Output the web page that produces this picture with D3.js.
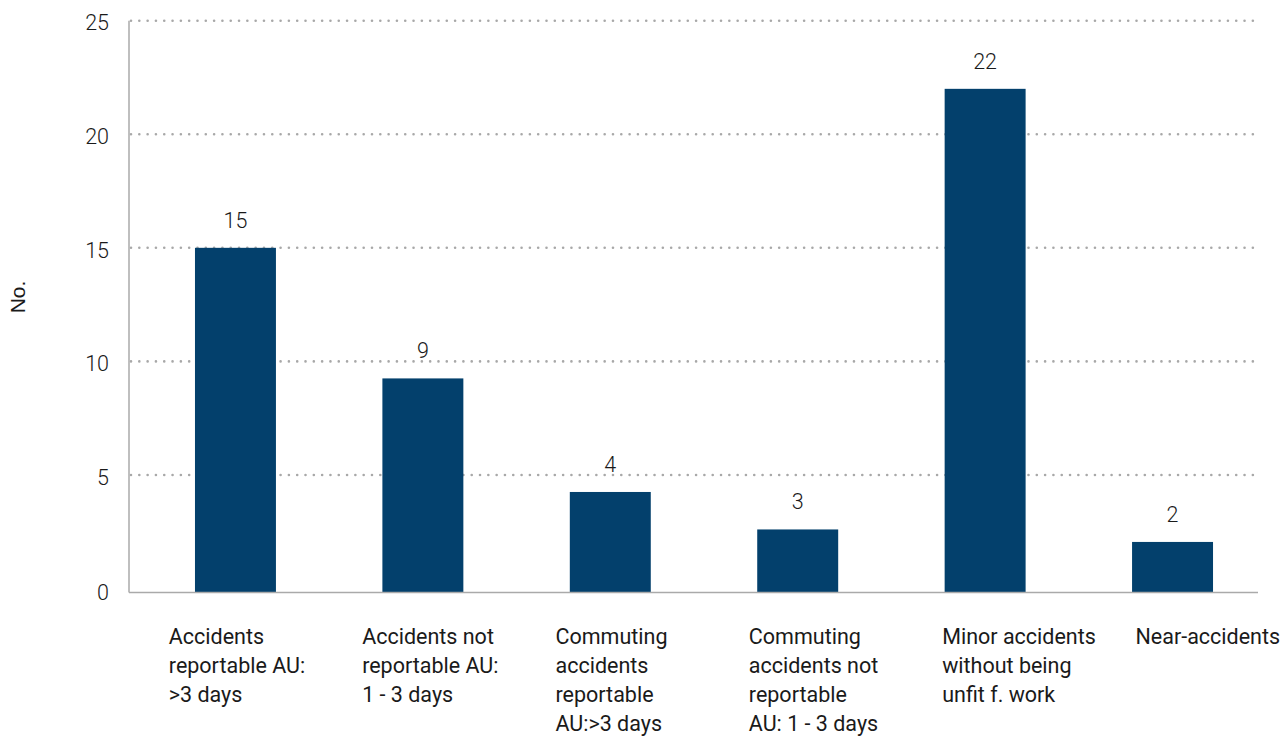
<!DOCTYPE html>
<html>
<head>
<meta charset="utf-8">
<script src="https://cdn.jsdelivr.net/npm/d3@7"></script>
<style>
  body { margin: 0; background: #fff; }
  text { font-family: Roboto, "Open Sans", sans-serif; font-weight: 300; fill: #1a1a1a; }
</style>
</head>
<body>
<div id="chart"></div>
<script>
// categories (wrapped into lines), bar heights and the printed value labels
var categories = [
    ["Accidents", "reportable AU:", ">3 days"],
    ["Accidents not", "reportable AU:", "1 - 3 days"],
    ["Commuting", "accidents", "reportable", "AU:>3 days"],
    ["Commuting", "accidents not", "reportable", "AU: 1 - 3 days"],
    ["Minor accidents", "without being", "unfit f. work"],
    ["Near-accidents"]
];
var values = [15, 9.25, 4.25, 2.6, 22, 2.05];
var valueLabels = ["15", "9", "4", "3", "22", "2"];
var yTicks = [0, 5, 10, 15, 20, 25];

var width = 1282, height = 736;
var plot = { left: 129, right: 1258, top: 20.7, bottom: 588.5 };

var svg = d3.select("#chart")
    .append("svg")
    .attr("width", width)
    .attr("height", height);

var keys = categories.map(function (d, i) { return "c" + i; });

var x = d3.scaleBand()
    .domain(keys)
    .range([plot.left, 1279])
    .paddingInner(0.568)
    .paddingOuter(0.352);

var xLabel = d3.scalePoint()
    .domain(keys)
    .range([168.8, 1135.5]);

var y = d3.scaleLinear()
    .domain([0, 25])
    .range([plot.bottom, plot.top]);

var baseY = y(0) + 4;

// dotted gridlines
svg.append("g")
    .selectAll("line")
    .data(yTicks.filter(function (d) { return d > 0; }))
    .enter()
    .append("line")
    .attr("x1", plot.left + 2)
    .attr("x2", plot.right)
    .attr("y1", function (d) { return y(d); })
    .attr("y2", function (d) { return y(d); })
    .style("stroke", "#a8a8a8")
    .style("stroke-width", 2.6)
    .style("stroke-linecap", "round")
    .style("stroke-dasharray", "0.01,8.3");

// bars
svg.append("g")
    .selectAll("rect")
    .data(values)
    .enter()
    .append("rect")
    .attr("x", function (d, i) { return x(keys[i]); })
    .attr("width", x.bandwidth())
    .attr("y", function (d) { return y(d); })
    .attr("height", function (d) { return baseY - y(d); })
    .style("fill", "#03406c");

// axis lines
svg.append("line")
    .attr("x1", plot.left).attr("x2", plot.left)
    .attr("y1", plot.top).attr("y2", baseY)
    .style("stroke", "#aaa")
    .style("stroke-width", 1.5);

svg.append("line")
    .attr("x1", plot.left).attr("x2", plot.right)
    .attr("y1", baseY).attr("y2", baseY)
    .style("stroke", "#aaa")
    .style("stroke-width", 1.5);

// y tick labels
svg.append("g")
    .selectAll("text")
    .data(yTicks)
    .enter()
    .append("text")
    .attr("x", plot.left - 20)
    .attr("y", function (d) { return d === 0 ? baseY : y(d) + 2; })
    .attr("dy", "0.36em")
    .attr("text-anchor", "end")
    .style("font-size", "21.5px")
    .text(function (d) { return d; });

// y axis title
svg.append("text")
    .attr("transform", "translate(25," + 297 + ") rotate(-90)")
    .attr("text-anchor", "middle")
    .style("font-family", "'Liberation Sans', Arial, sans-serif")
    .style("font-weight", 400)
    .style("font-size", "21px")
    .text("No.");

// value labels
svg.append("g")
    .selectAll("text")
    .data(values)
    .enter()
    .append("text")
    .attr("x", function (d, i) { return x(keys[i]) + x.bandwidth() / 2; })
    .attr("y", function (d) { return y(d) - 20; })
    .attr("text-anchor", "middle")
    .style("font-size", "21.5px")
    .text(function (d, i) { return valueLabels[i]; });

// category labels
var cat = svg.append("g")
    .selectAll("text")
    .data(categories)
    .enter()
    .append("text")
    .attr("x", function (d, i) { return xLabel(keys[i]); })
    .attr("y", 644)
    .style("font-size", "21.5px")
    .style("font-weight", 400);

cat.selectAll("tspan")
    .data(function (d, i) { return d.map(function (line) { return { line: line, i: i }; }); })
    .enter()
    .append("tspan")
    .attr("x", function (d) { return xLabel(keys[d.i]); })
    .attr("dy", function (d, j) { return j === 0 ? 0 : 29; })
    .text(function (d) { return d.line; });
</script>
</body>
</html>
